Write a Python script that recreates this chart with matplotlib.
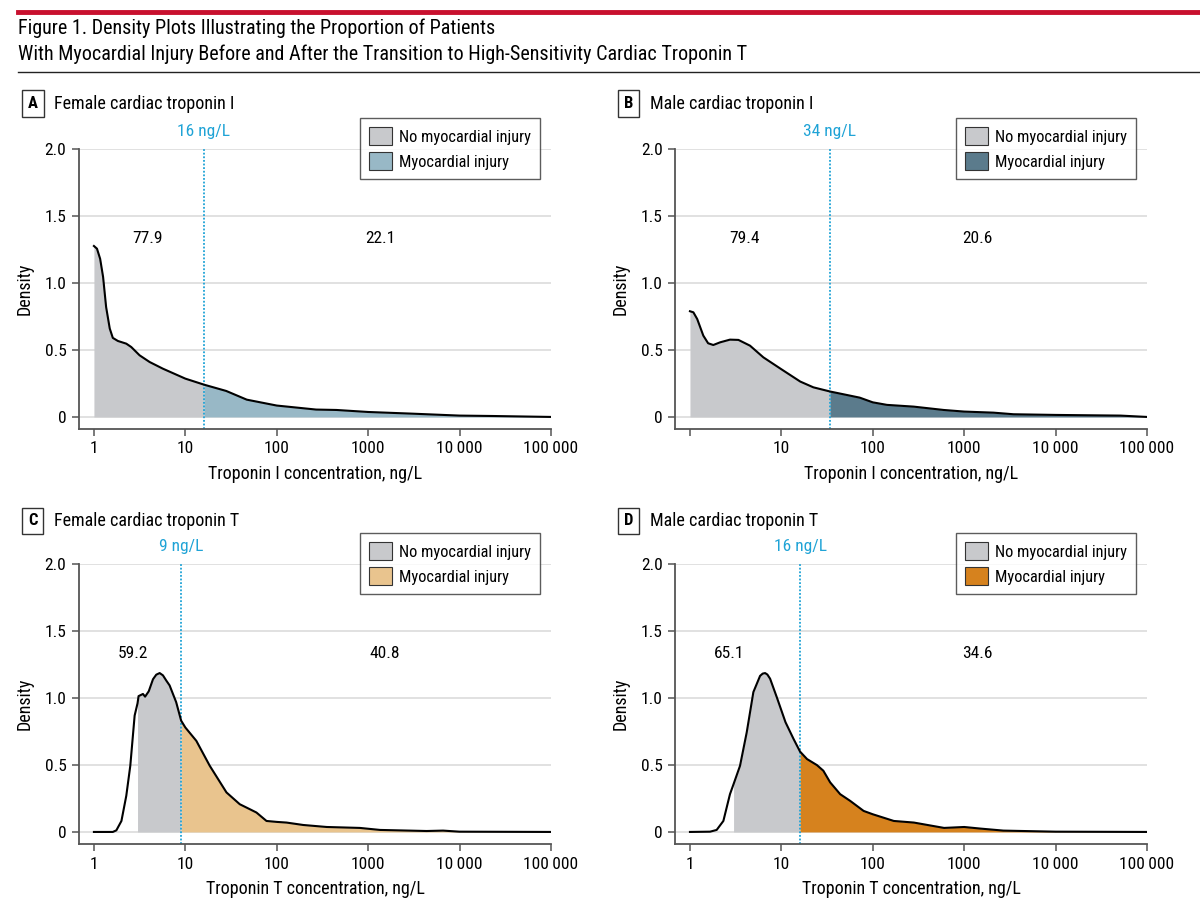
import matplotlib.pyplot as plt
from matplotlib.lines import Line2D
from matplotlib.patches import Patch
import numpy as np

plt.rcParams['font.family'] = ['Roboto Condensed', 'Lato', 'DejaVu Sans']

# panel A: female cTnI
a_conc = [1, 1.08, 1.17, 1.26, 1.36, 1.49, 1.61, 1.83, 2.26, 2.56, 3.16, 4.07, 5.69, 10,
          16, 28, 47, 100, 270, 450, 1000, 2900, 10000, 23000, 100000]
a_dens = [1.276, 1.256, 1.18, 1.045, 0.82, 0.66, 0.59, 0.567, 0.547, 0.522, 0.46, 0.41, 0.36, 0.286,
          0.241, 0.194, 0.129, 0.085, 0.055, 0.052, 0.037, 0.025, 0.01, 0.007, 0.0]
# panel B: male cTnI
b_conc = [1, 1.09, 1.2, 1.4, 1.58, 1.8, 2.14, 2.74, 3.39, 4.54, 6.35, 10, 16.1, 22.4,
          34, 52, 72, 100, 143, 280, 597, 1000, 2090, 3470, 10000, 26300, 51300, 100000]
b_dens = [0.789, 0.781, 0.731, 0.607, 0.55, 0.537, 0.557, 0.577, 0.575, 0.532, 0.445, 0.356, 0.264, 0.221,
          0.19, 0.164, 0.144, 0.109, 0.09, 0.077, 0.052, 0.04, 0.032, 0.02, 0.015, 0.012, 0.01, 0.0]
# panel C: female hs-cTnT
c_conc = [1, 1.61, 1.76, 2.0, 2.26, 2.5, 2.79, 3.0, 3.08, 3.44, 3.63, 3.98, 4.43, 4.81, 5.24, 5.69,
          6.19, 6.73, 7.94, 9, 10, 13.2, 18.5, 28.2, 39.4, 50.7, 60, 77.3, 100, 128, 195, 352, 813,
          1350, 4370, 6610, 10000, 100000]
c_dens = [0, 0, 0.012, 0.082, 0.27, 0.494, 0.869, 0.96, 1.014, 1.03, 1.01, 1.05, 1.14, 1.174, 1.186, 1.169,
          1.13, 1.094, 0.969, 0.831, 0.78, 0.68, 0.494, 0.295, 0.207, 0.17, 0.145, 0.082, 0.075, 0.07,
          0.052, 0.037, 0.03, 0.015, 0.007, 0.01, 0.002, 0]
# panel D: male hs-cTnT
d_conc = [1, 1.66, 1.96, 2.32, 2.74, 3.0, 3.53, 4.18, 4.94, 5.85, 6.25, 6.64, 7.03, 7.53, 8.91, 11.1,
          13.6, 16, 19.1, 24.5, 28.8, 34.2, 44, 56.6, 79.4, 100, 170, 282, 603, 1000, 1510, 2690,
          10000, 100000]
d_dens = [0, 0.002, 0.015, 0.082, 0.282, 0.357, 0.494, 0.744, 1.044, 1.165, 1.182, 1.186, 1.175, 1.144,
          1.006, 0.819, 0.694, 0.6, 0.544, 0.499, 0.457, 0.37, 0.282, 0.232, 0.157, 0.132, 0.082, 0.07,
          0.03, 0.037, 0.025, 0.01, 0.002, 0]

letters = ["A", "B", "C", "D"]
titles = ["Female cardiac troponin I", "Male cardiac troponin I",
          "Female cardiac troponin T", "Male cardiac troponin T"]
xlabels = ["Troponin I concentration, ng/L", "Troponin I concentration, ng/L",
           "Troponin T concentration, ng/L", "Troponin T concentration, ng/L"]
thresholds = [16, 34, 9, 16]
fill_starts = [1, 1, 3, 3]
pct_below = ["77.9", "79.4", "59.2", "65.1"]
pct_above = ["22.1", "20.6", "40.8", "34.6"]
pct_x_below = [3.9, 4.0, 2.7, 2.7]
pct_x_above = [1350, 1380, 1500, 1380]
injury_colors = ["#98b8c6", "#5b7b8c", "#e9c48e", "#d6821e"]
gray = "#c8c9cc"
blue = "#1fa3d6"

concs = [a_conc, b_conc, c_conc, d_conc]
denss = [a_dens, b_dens, c_dens, d_dens]

fig = plt.figure(figsize=(12, 9.02), dpi=100)

# header
fig.add_artist(Line2D([0.015, 1.0], [0.987, 0.987], color="#c8102e", lw=3.5))
fig.text(0.015, 0.969, "Figure 1. Density Plots Illustrating the Proportion of Patients",
         fontsize=14.5, va="center")
fig.text(0.015, 0.940, "With Myocardial Injury Before and After the Transition to High-Sensitivity Cardiac Troponin T",
         fontsize=14.5, va="center")
fig.add_artist(Line2D([0.015, 1.0], [0.920, 0.920], color="#222222", lw=1))

lefts = [0.0658, 0.5625, 0.0658, 0.5625]
bottoms = [0.5244, 0.5244, 0.0643, 0.0643]
label_y = [0.885, 0.885, 0.4224, 0.4224]

for i in range(4):
    ax = fig.add_axes([lefts[i], bottoms[i], 0.3933, 0.3104])
    x = np.array(concs[i])
    y = np.array(denss[i])
    thr = thresholds[i]

    for g in [0, 0.5, 1.0, 1.5, 2.0]:
        ax.axhline(g, color="#dcdcdc", lw=1.2, zorder=0)

    m1 = (x >= fill_starts[i]) & (x <= thr)
    m2 = x >= thr
    ax.fill_between(x[m1], y[m1], color=gray, lw=0, zorder=1)
    ax.fill_between(x[m2], y[m2], color=injury_colors[i], lw=0, zorder=1)
    ax.plot(x, y, color="black", lw=1.5, zorder=3)

    ax.axvline(thr, color=blue, lw=1.3, ls=(0, (1, 1)), zorder=2)
    ax.text(thr, 2.13, f"{thr} ng/L", color=blue, fontsize=12.5, ha="center", va="center")

    ax.text(pct_x_below[i], 1.33, pct_below[i], fontsize=12.5, ha="center", va="center")
    ax.text(pct_x_above[i], 1.33, pct_above[i], fontsize=12.5, ha="center", va="center")

    ax.set_xscale("log")
    ax.set_xlim(0.686, 100000)
    ax.set_ylim(-0.09, 2.0)
    xt = [1, 10, 100, 1000, 10000, 100000]
    xtl = ["1", "10", "100", "1000", "10\u2009000", "100\u2009000"]
    if i == 1:
        xtl[0] = ""
    ax.set_xticks(xt)
    ax.set_xticklabels(xtl)
    ax.minorticks_off()
    ax.set_yticks([0, 0.5, 1.0, 1.5, 2.0])
    ax.set_yticklabels(["0", "0.5", "1.0", "1.5", "2.0"])
    ax.tick_params(labelsize=12.5, length=5, width=1.1, color="#555555", pad=4)
    for s in ["top", "right"]:
        ax.spines[s].set_visible(False)
    for s in ["left", "bottom"]:
        ax.spines[s].set_color("#555555")
        ax.spines[s].set_linewidth(1.3)
    ax.set_xlabel(xlabels[i], fontsize=13, labelpad=6)
    ax.set_ylabel("Density", fontsize=13, labelpad=8)
    ax.patch.set_alpha(0)

    handles = [Patch(facecolor=gray, edgecolor="#333333", lw=0.8),
               Patch(facecolor=injury_colors[i], edgecolor="#333333", lw=0.8)]
    leg = ax.legend(handles, ["No myocardial injury", "Myocardial injury"],
                    loc="upper right", bbox_to_anchor=(0.994, 1.14), fontsize=11.8,
                    frameon=True, fancybox=False, handlelength=1.35, handleheight=1.35,
                    borderpad=0.55, labelspacing=0.4, handletextpad=0.45)
    leg.get_frame().set_edgecolor("#333333")
    leg.get_frame().set_linewidth(1.0)

    lx = lefts[i] - 0.0385
    fig.text(lx, label_y[i], letters[i], fontsize=12, fontweight="bold", ha="center", va="center",
             bbox=dict(boxstyle="square,pad=0.35", fc="white", ec="#333333", lw=1.0))
    fig.text(lx + 0.0175, label_y[i], titles[i], fontsize=13, va="center")

fig.savefig("out.png", dpi=100)
